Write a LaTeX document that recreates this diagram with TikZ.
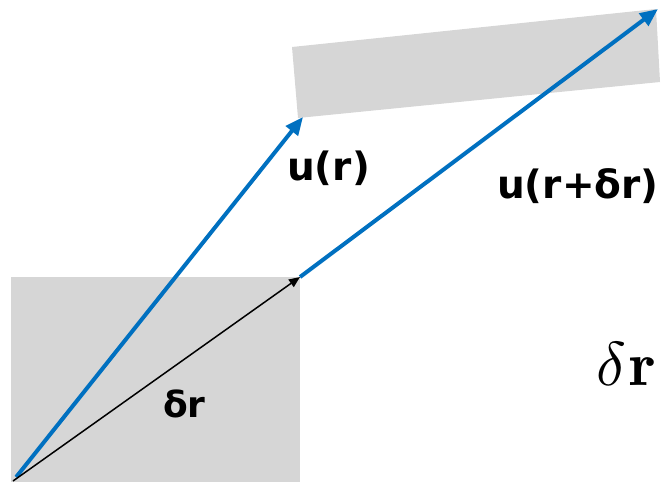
\documentclass[tikz,border=0pt]{standalone}
\usepackage{fontspec}
\setsansfont{DejaVu Sans}
\usepackage{xcolor}
\definecolor{ublue}{HTML}{0070C0}
\definecolor{pgray}{HTML}{D6D6D6}
\usetikzlibrary{arrows.meta}
\tikzset{
  lbl/.style={font=\sffamily\bfseries\fontsize{39}{44}\selectfont,
              inner sep=0pt, anchor=base west},
  patch/.style={fill=pgray, draw=none},
  uar/.style={-{Triangle[length=18pt,width=15pt]}, draw=ublue, line width=4pt},
  dar/.style={-{Triangle[length=11pt,width=9pt]}, draw=black, line width=1.5pt},
}
\begin{document}
\begin{tikzpicture}[x=1pt,y=-1pt]
  \useasboundingbox (0,0) rectangle (668,482);
  % patch before and after the deformation
  \fill[patch] (11,277) rectangle (300,482);
  \fill[patch] (292,47) -- (656,9) -- (660,82) -- (298,118) -- cycle;
  \coordinate (o) at (13,481);
  \coordinate (p) at (300,277);
  \coordinate (uo) at (303,117);
  \coordinate (up) at (658,9);
  \draw[uar, shorten <=5pt] (o) -- (uo);
  \draw[uar] (p) -- (up);
  \draw[dar] (o) -- (p);
  \node[lbl] (ur) at (287,180) {u(r)};
  \node[lbl] (urdr) at (497,198) {u(r+δr)};
  \node[lbl, font=\sffamily\bfseries\fontsize{36}{40}\selectfont] (dr) at (163,417) {δr};
  \node[anchor=base west, inner sep=0pt, scale=6.2] (drmath) at (595,385) {$\delta\mkern1mu\mathbf{r}$};
\end{tikzpicture}
\end{document}
